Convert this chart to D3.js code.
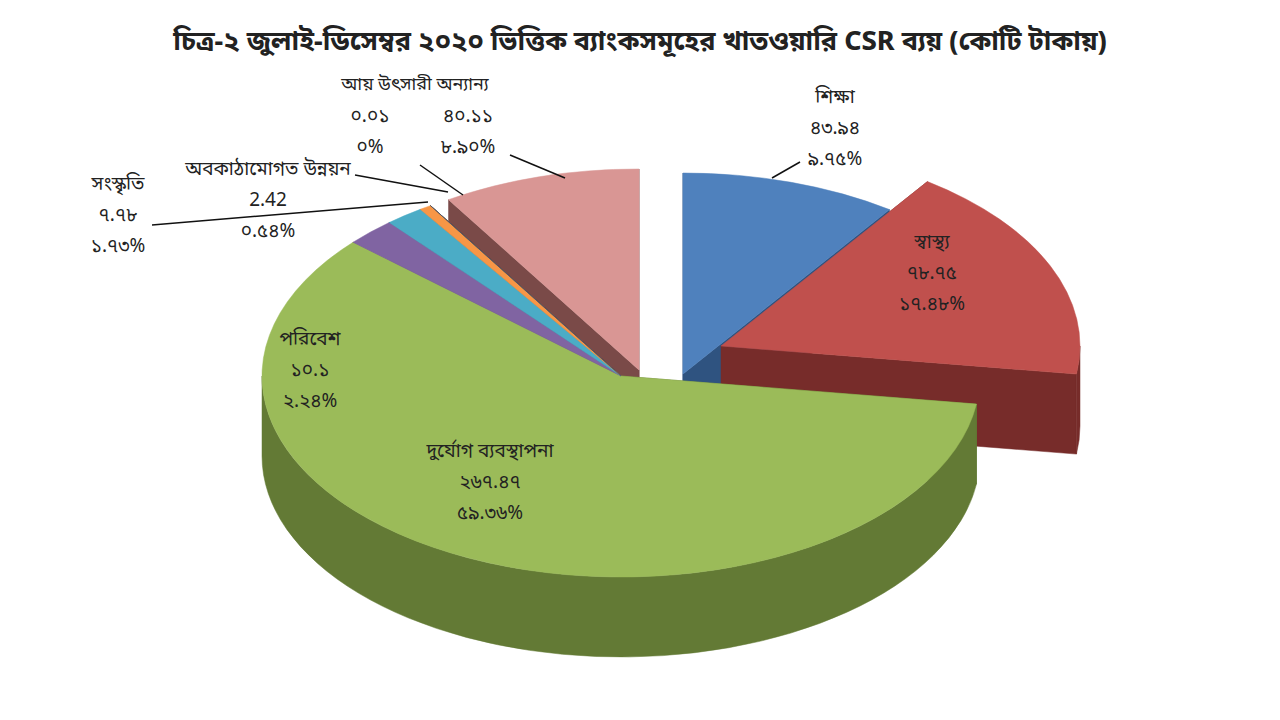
<!DOCTYPE html>
<html><head><meta charset="utf-8">
<script src="https://cdn.jsdelivr.net/npm/d3@7"></script>
<style>
body{margin:0;background:#fff}
text{font-family:"Noto Sans Bengali","Noto Serif Bengali","Lohit Bengali","Noto Sans",sans-serif;fill:#222}
</style></head><body>
<script>
const categories = ["শিক্ষা","স্বাস্থ্য","দুর্যোগ ব্যবস্থাপনা","পরিবেশ","সংস্কৃতি","অবকাঠামোগত উন্নয়ন","আয় উৎসারী","অন্যান্য"];
const values = [43.94, 78.75, 267.47, 10.1, 7.78, 2.42, 0.01, 40.11];
const valueLabels = ["৪৩.৯৪","৭৮.৭৫","২৬৭.৪৭","১০.১","৭.৭৮","2.42","০.০১","৪০.১১"];
const pctLabels = ["৯.৭৫%","১৭.৪৮%","৫৯.৩৬%","২.২৪%","১.৭৩%","০.৫৪%","০%","৮.৯০%"];
const topColors = ["#4f81bd","#c0504d","#9bbb59","#8064a2","#4bacc6","#f79646","#2c4d75","#d99694"];
const sideColors = ["#2f5380","#772c2a","#637a35","#3d2c55","#276a7c","#b35e14","#1a2d45","#7a4a48"];

const W = 1280, H = 720, cx = 621, cy = 376, rx = 359, ry = 201, depth = 80;
// explosion offsets per slice (screen px)
const explode = [[62,-2],[100,-30],[0,0],[0,0],[0,0],[0,0],[0,0],[18,-6]];

const svg = d3.select("body").append("svg").attr("width", W).attr("height", H);

svg.append("text").attr("x", W/2).attr("y", 50).attr("text-anchor","middle")
  .style("font-size","27px").style("font-weight","bold")
  .text("চিত্র-২ জুলাই-ডিসেম্বর ২০২০ ভিত্তিক ব্যাংকসমূহের খাতওয়ারি CSR ব্যয় (কোটি টাকায়)");

const arcs = d3.pie().sort(null).value(d => d)(values);
const pt = (a, o, dz=0) => [cx + o[0] + rx*Math.sin(a), cy + o[1] - ry*Math.cos(a) + dz];

function topPath(d, o) {
  const c = [cx+o[0], cy+o[1]], p0 = pt(d.startAngle,o), p1 = pt(d.endAngle,o);
  const large = d.endAngle - d.startAngle > Math.PI ? 1 : 0;
  return `M${c}L${p0}A${rx},${ry} 0 ${large} 1 ${p1}Z`;
}
function wallPath(a0, a1, o) {
  const p0 = pt(a0,o), p1 = pt(a1,o), q1 = pt(a1,o,depth), q0 = pt(a0,o,depth);
  const large = a1 - a0 > Math.PI ? 1 : 0;
  return `M${p0}A${rx},${ry} 0 ${large} 1 ${p1}L${q1}A${rx},${ry} 0 ${large} 0 ${q0}Z`;
}
function radialPath(a, o) {
  const c = [cx+o[0], cy+o[1]], e = pt(a,o);
  return `M${c}L${e}L${e[0]},${e[1]+depth}L${c[0]},${c[1]+depth}Z`;
}

const sides = [];
arcs.forEach((d, i) => {
  const o = explode[i];
  [d.startAngle, d.endAngle].forEach(a => {
    sides.push({path: radialPath(a, o), z: cy + o[1] - ry*Math.cos(a)*0.5, i});
  });
  const a0 = Math.max(d.startAngle, Math.PI/2), a1 = Math.min(d.endAngle, 3*Math.PI/2);
  if (a1 > a0) sides.push({path: wallPath(a0, a1, o), z: cy + o[1] + ry*1.1, i});
});
sides.sort((a, b) => a.z - b.z);
svg.append("g").selectAll("path").data(sides).join("path")
  .attr("d", d => d.path).attr("fill", d => sideColors[d.i])
  .attr("stroke", d => sideColors[d.i]).attr("stroke-width", 0.5);

svg.append("g").selectAll("path").data(arcs).join("path")
  .attr("d", (d, i) => topPath(d, explode[i])).attr("fill", (d, i) => topColors[i])
  .attr("stroke", (d, i) => topColors[i]).attr("stroke-width", 0.5);

// labels
const labelPos = [[835,103,"middle"],[932,248,"middle"],[490,457,"middle"],[310,345,"middle"],[118,190,"middle"],[268,175,"middle"],[370,90,"middle"],[468,90,"middle"]];
const leaders = [[[772,178],[800,162]],null,null,null,[[152,225],[428,202]],[[355,175],[448,192]],[[420,165],[463,195]],[[510,155],[565,178]]];
const g = svg.append("g");
leaders.forEach(l => { if (l) g.append("polyline").attr("points", l.join(" ")).attr("fill","none").attr("stroke","#111").attr("stroke-width",1.5); });
categories.forEach((c, i) => {
  const [x, y, anc] = labelPos[i];
  const lines = (i === 6 || i === 7) ? [valueLabels[i], pctLabels[i]] : [c, valueLabels[i], pctLabels[i]];
  const y0 = (i === 6 || i === 7) ? y + 32 : y;
  lines.forEach((t, k) => g.append("text").attr("x", x).attr("y", y0 + k*31).attr("text-anchor", anc)
    .style("font-size", "19px").text(t));
});
g.append("text").attr("x", 415).attr("y", 90).attr("text-anchor","middle").style("font-size","18px").text("আয় উৎসারী অন্যান্য");
</script>
</body></html>
